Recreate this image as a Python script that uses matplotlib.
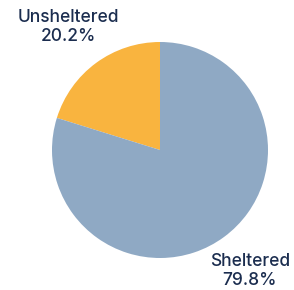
import matplotlib
matplotlib.use('Agg')
import matplotlib.pyplot as plt

labels = ['Unsheltered', 'Sheltered']
shares = [20.2, 79.8]
colors = ['#f9b43f', '#8fa9c4']
text_color = '#1b2d4f'

plt.rcParams['font.family'] = ['Inter', 'DejaVu Sans']

fig = plt.figure(figsize=(2.94, 2.90), dpi=100)
# pie centred at about (160, 150) px with radius ~108 px
ax = fig.add_axes([52 / 294, (290 - 150 - 108) / 290, 216 / 294, 216 / 290])
ax.pie(shares, colors=colors, startangle=90, counterclock=True,
       radius=1, wedgeprops={'linewidth': 0})
ax.set_xlim(-1, 1)
ax.set_ylim(-1, 1)
ax.set_aspect('auto')

# labels sit outside the pie
ax.text(-0.85, 1.14, f'{labels[0]}\n{shares[0]}%', ha='center', va='center',
        fontsize=12.5, fontweight='medium', color=text_color,
        linespacing=1.2, clip_on=False)
ax.text(0.83, -1.12, f'{labels[1]}\n{shares[1]}%', ha='center', va='center',
        fontsize=12.5, fontweight='medium', color=text_color,
        linespacing=1.2, clip_on=False)

fig.savefig('out.png', dpi=100)
